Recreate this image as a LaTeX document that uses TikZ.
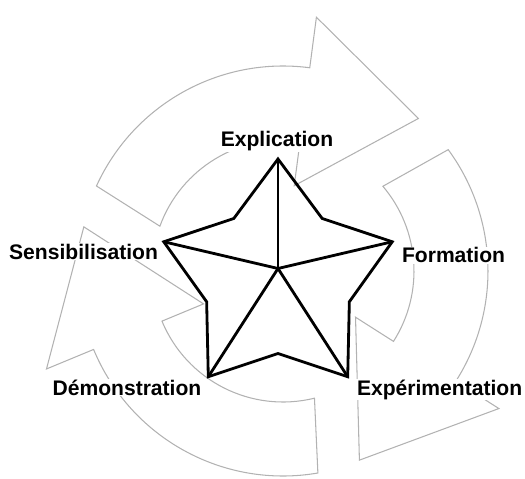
\documentclass[tikz,border=0pt]{standalone}
\usepackage{fontspec}
\setmainfont{Liberation Sans}
\usepackage{xcolor}
\usepackage{tikz}

\begin{document}
\begin{tikzpicture}[
    cyc/.style={draw=black!30, line width=0.6pt},
    starline/.style={line width=1.6pt},
    lbl/.style={font=\bfseries\fontsize{12}{14}\selectfont, fill=white, inner sep=0.5pt}
  ]
    \useasboundingbox (-5.66,-4.16) rectangle (4.84,5.42);
    \def\Ro{4.1}
    \def\Ri{2.62}
    \def\Ho{5.12}
    \def\Hi{1.72}
    \def\Rt{4.08}
    % three arrows of the cycle, clockwise
    \draw[cyc] (155.5:\Ro) arc[start angle=155.5, end angle=82.5, radius=\Ro]
        -- (82.5:\Ho) -- (48.4:\Rt) -- (82.5:\Hi) -- (82.5:\Ri)
        arc[start angle=82.5, end angle=160, radius=\Ri] -- cycle;
    \draw[cyc] (36.3:\Ro) arc[start angle=36.3, end angle=-32.5, radius=\Ro]
        -- (-32.5:\Ho) -- (-68:\Rt) -- (-32.5:\Hi) -- (-32.5:\Ri)
        arc[start angle=-32.5, end angle=40.3, radius=\Ri] -- cycle;
    \draw[cyc] (279.8:\Ro) arc[start angle=279.8, end angle=202.5, radius=\Ro]
        -- (202.5:\Ho) -- (167.5:\Rt) -- (202.5:\Hi) -- (202.5:\Ri)
        arc[start angle=202.5, end angle=283.9, radius=\Ri] -- cycle;
    % the star
    \begin{scope}[shift={(-0.1,0.05)}]
      \coordinate (c) at (0,0);
      \coordinate (top) at (0,2.19);
      \coordinate (ur) at (0.884,1.0);
      \coordinate (rt) at (2.285,0.535);
      \coordinate (rl) at (1.427,-0.665);
      \coordinate (br) at (1.394,-2.165);
      \coordinate (bi) at (0,-1.70);
      \coordinate (bl) at (-1.394,-2.165);
      \coordinate (ll) at (-1.427,-0.665);
      \coordinate (lt) at (-2.285,0.535);
      \coordinate (ul) at (-0.884,1.0);
    \end{scope}
    \draw[starline] (top) -- (ur) -- (rt) -- (rl) -- (br) -- (bi) -- (bl) -- (ll) -- (lt) -- (ul) -- cycle;
    \draw[starline] (c) -- (top);
    \draw[starline] (c) -- (rt);
    \draw[starline] (c) -- (br);
    \draw[starline] (c) -- (bl);
    \draw[starline] (c) -- (lt);
    % labels
    \node[lbl, anchor=base] (explication) at (-0.12,2.486) {Explication};
    \node[lbl, anchor=base west] (formation) at (2.356,0.166) {Formation};
    \node[lbl, anchor=base west] (experimentation) at (1.456,-2.48) {Expérimentation};
    \node[lbl, anchor=base east] (demonstration) at (-1.608,-2.48) {Démonstration};
    \node[lbl, anchor=base east] (sensibilisation) at (-2.476,0.234) {Sensibilisation};
\end{tikzpicture}
\end{document}
